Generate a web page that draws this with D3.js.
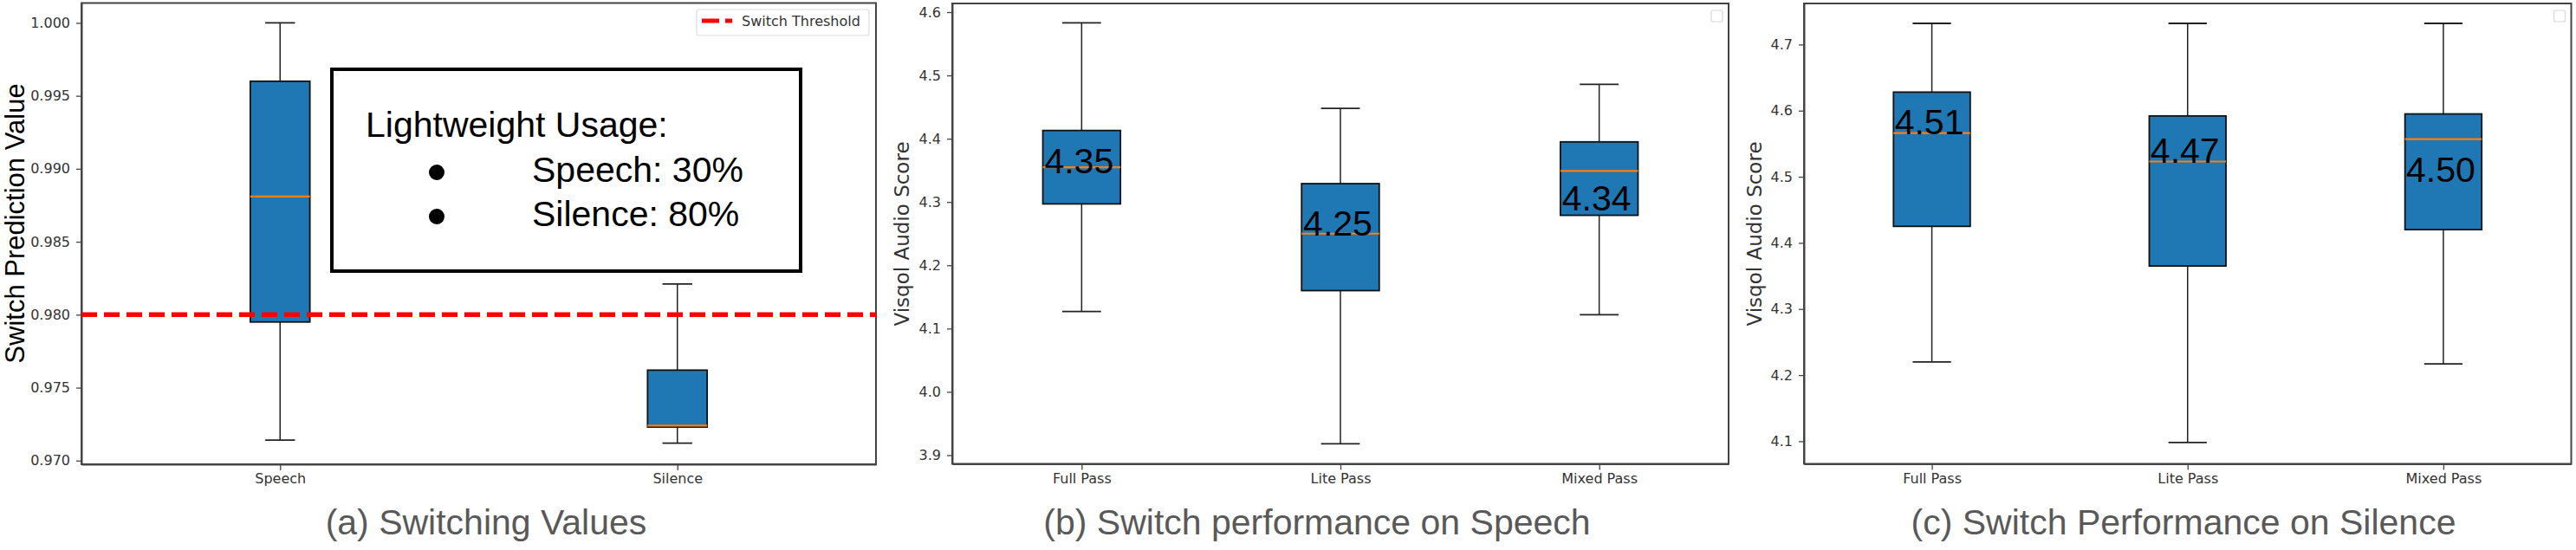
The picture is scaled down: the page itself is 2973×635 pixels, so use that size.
<!DOCTYPE html>
<html>
<head>
<meta charset="utf-8">
<script src="https://cdn.jsdelivr.net/npm/d3@7"></script>
<style>
  body { margin: 0; background: #fff; }
  .axis text { font-family: "DejaVu Sans", sans-serif; font-size: 16px; fill: #333; }
  .axis path, .axis line { stroke: #444; }
  .axis path { stroke-width: 2px; }
  .axis line { stroke-width: 1.3px; }
</style>
</head>
<body>
<svg id="chart" width="2973" height="635"></svg>
<script>
  // (a) switching values
  const switchCats = ['Speech', 'Silence'];
  const switchLow = [0.9714, 0.9712];
  const switchQ1 = [0.9795, 0.9723];
  const switchMedian = [0.9881, 0.9724];
  const switchQ3 = [0.9960, 0.9762];
  const switchHigh = [1.0000, 0.9821];
  const switchThreshold = 0.98;
  const switchTicks = [0.970, 0.975, 0.980, 0.985, 0.990, 0.995, 1.000];
  const usageTitle = 'Lightweight Usage:';
  const usageLines = ['Speech: 30%', 'Silence: 80%'];

  // (b) and (c) visqol scores
  const passCats = ['Full Pass', 'Lite Pass', 'Mixed Pass'];

  const speechLow = [4.127, 3.918, 4.122];
  const speechQ1 = [4.297, 4.160, 4.279];
  const speechMedian = [4.355, 4.250, 4.349];
  const speechQ3 = [4.413, 4.329, 4.395];
  const speechHigh = [4.583, 4.448, 4.486];
  const speechMeans = ['4.35', '4.25', '4.34'];
  const speechMeanAt = [4.345, 4.247, 4.286];
  const speechTicks = [3.9, 4.0, 4.1, 4.2, 4.3, 4.4, 4.5, 4.6];

  const silenceLow = [4.220, 4.098, 4.217];
  const silenceQ1 = [4.425, 4.365, 4.420];
  const silenceMedian = [4.566, 4.523, 4.557];
  const silenceQ3 = [4.628, 4.592, 4.595];
  const silenceHigh = [4.732, 4.732, 4.732];
  const silenceMeans = ['4.51', '4.47', '4.50'];
  const silenceMeanAt = [4.564, 4.521, 4.492];
  const silenceTicks = [4.1, 4.2, 4.3, 4.4, 4.5, 4.6, 4.7];

  const svg = d3.select('#chart');
  const arial = '"Liberation Sans", Arial, sans-serif';

  function boxPanel(p) {
    const x = d3.scalePoint().domain(p.cats).range([p.left, p.right]).padding(0.5);
    const y = d3.scaleLinear().domain(p.domain).range([p.bottom, p.top]);
    const step = x.step();
    const bw = step * p.boxWidth;
    const g = svg.append('g');

    const rows = p.cats.map((c, i) => ({
      cat: c, low: p.low[i], q1: p.q1[i], med: p.median[i], q3: p.q3[i], high: p.high[i]
    }));

    // whiskers
    g.selectAll('.whisker').data(rows).join('g').each(function (d) {
      const w = d3.select(this);
      const cx = x(d.cat);
      w.append('line').attr('x1', cx).attr('x2', cx).attr('y1', y(d.high)).attr('y2', y(d.q3))
        .attr('stroke', '#222').attr('stroke-width', 1.5);
      w.append('line').attr('x1', cx).attr('x2', cx).attr('y1', y(d.q1)).attr('y2', y(d.low))
        .attr('stroke', '#222').attr('stroke-width', 1.5);
      [d.high, d.low].forEach(v => {
        w.append('line').attr('x1', cx - bw / 4).attr('x2', cx + bw / 4)
          .attr('y1', y(v)).attr('y2', y(v)).attr('stroke', '#222').attr('stroke-width', 1.8);
      });
    });

    g.selectAll('.box').data(rows).join('rect')
      .attr('x', d => x(d.cat) - bw / 2)
      .attr('y', d => y(d.q3))
      .attr('width', bw)
      .attr('height', d => y(d.q1) - y(d.q3))
      .attr('fill', '#1f77b4')
      .attr('stroke', '#111')
      .attr('stroke-width', 1.8);

    g.selectAll('.median').data(rows).join('line')
      .attr('x1', d => x(d.cat) - bw / 2)
      .attr('x2', d => x(d.cat) + bw / 2)
      .attr('y1', d => y(d.med))
      .attr('y2', d => y(d.med))
      .attr('stroke', '#ff7f0e')
      .attr('stroke-width', 2.2);

    if (p.labels) {
      g.selectAll('.mean').data(p.labels).join('text')
        .attr('x', (d, i) => x(p.cats[i]) - 3)
        .attr('y', (d, i) => y(p.labelAt[i]))
        .attr('text-anchor', 'middle')
        .attr('font-family', arial)
        .attr('font-size', 41)
        .attr('fill', '#000')
        .text(d => d);
    }

    // axes
    g.append('g')
      .attr('class', 'axis')
      .attr('transform', 'translate(0,' + p.bottom + ')')
      .call(d3.axisBottom(x).tickSize(7).tickPadding(4).tickSizeOuter(0));
    g.append('g')
      .attr('class', 'axis')
      .attr('transform', 'translate(' + p.left + ',0)')
      .call(d3.axisLeft(y).tickValues(p.ticks).tickFormat(d3.format(p.fmt)).tickSize(6).tickPadding(7).tickSizeOuter(0));
    g.append('rect')
      .attr('x', p.left).attr('y', p.top)
      .attr('width', p.right - p.left).attr('height', p.bottom - p.top)
      .attr('fill', 'none').attr('stroke', '#444').attr('stroke-width', 2);

    g.append('text')
      .attr('transform', 'translate(' + p.ylabelX + ',' + p.ylabelY + ') rotate(-90)')
      .attr('text-anchor', 'middle')
      .attr('dominant-baseline', 'central')
      .attr('font-family', p.ylabelFont)
      .attr('font-size', p.ylabelSize)
      .attr('fill', p.ylabelColor)
      .text(p.ylabel);

    g.append('text')
      .attr('x', p.captionX).attr('y', 617)
      .attr('text-anchor', 'middle')
      .attr('font-family', arial)
      .attr('font-size', 41)
      .attr('fill', '#595959')
      .text(p.caption);

    if (p.emptyLegend) {
      g.append('rect')
        .attr('x', p.right - 20).attr('y', p.top + 8)
        .attr('width', 13).attr('height', 13).attr('rx', 2)
        .attr('fill', '#fff').attr('stroke', '#d8d8d8').attr('stroke-width', 1.2);
    }
    return { g, x, y };
  }

  // panel (a)
  const pa = boxPanel({
    cats: switchCats, low: switchLow, q1: switchQ1, median: switchMedian, q3: switchQ3, high: switchHigh,
    left: 94, right: 1011, top: 3.5, bottom: 536, domain: [0.96975, 1.00136],
    boxWidth: 0.15, ticks: switchTicks, fmt: '.3f',
    ylabel: 'Switch Prediction Value', ylabelX: 17, ylabelY: 258, ylabelFont: arial, ylabelSize: 31, ylabelColor: '#000',
    caption: '(a) Switching Values', captionX: 561
  });

  pa.g.append('line')
    .attr('x1', 94).attr('x2', 1011)
    .attr('y1', pa.y(switchThreshold)).attr('y2', pa.y(switchThreshold))
    .attr('stroke', '#ff0000').attr('stroke-width', 5.5)
    .attr('stroke-dasharray', '18,8');

  // legend
  const leg = pa.g.append('g');
  leg.append('rect').attr('x', 804).attr('y', 11).attr('width', 199).attr('height', 30).attr('rx', 3)
    .attr('fill', '#fff').attr('stroke', '#ddd').attr('stroke-width', 1.2);
  leg.append('line').attr('x1', 810).attr('x2', 845).attr('y1', 24).attr('y2', 24)
    .attr('stroke', '#ff0000').attr('stroke-width', 5).attr('stroke-dasharray', '20,7');
  leg.append('text').attr('x', 856).attr('y', 30)
    .attr('font-family', '"DejaVu Sans", sans-serif').attr('font-size', 16).attr('fill', '#333')
    .text('Switch Threshold');

  // usage annotation box
  const note = pa.g.append('g');
  note.append('rect').attr('x', 383).attr('y', 80).attr('width', 541).attr('height', 233)
    .attr('fill', '#fff').attr('stroke', '#000').attr('stroke-width', 4);
  note.append('text').attr('x', 422).attr('y', 158)
    .attr('font-family', arial).attr('font-size', 41).attr('fill', '#000')
    .text(usageTitle);
  note.selectAll('.bullet').data(usageLines).join('circle')
    .attr('cx', 504).attr('cy', (d, i) => 199 + i * 51).attr('r', 9).attr('fill', '#000');
  note.selectAll('.usage').data(usageLines).join('text')
    .attr('x', 614).attr('y', (d, i) => 210 + i * 51)
    .attr('font-family', arial).attr('font-size', 41).attr('fill', '#000')
    .text(d => d);

  // panel (b)
  boxPanel({
    cats: passCats, low: speechLow, q1: speechQ1, median: speechMedian, q3: speechQ3, high: speechHigh,
    labels: speechMeans, labelAt: speechMeanAt,
    left: 1099, right: 1995, top: 4, bottom: 535.5, domain: [3.8863, 4.6137],
    boxWidth: 0.3, ticks: speechTicks, fmt: '.1f',
    ylabel: 'Visqol Audio Score', ylabelX: 1041, ylabelY: 270, ylabelFont: '"DejaVu Sans", sans-serif', ylabelSize: 23, ylabelColor: '#333',
    caption: '(b) Switch performance on Speech', captionX: 1520, emptyLegend: true
  });

  // panel (c)
  boxPanel({
    cats: passCats, low: silenceLow, q1: silenceQ1, median: silenceMedian, q3: silenceQ3, high: silenceHigh,
    labels: silenceMeans, labelAt: silenceMeanAt,
    left: 2082, right: 2967.5, top: 4, bottom: 535.5, domain: [4.0658, 4.7621],
    boxWidth: 0.3, ticks: silenceTicks, fmt: '.1f',
    ylabel: 'Visqol Audio Score', ylabelX: 2025, ylabelY: 270, ylabelFont: '"DejaVu Sans", sans-serif', ylabelSize: 23, ylabelColor: '#333',
    caption: '(c) Switch Performance on Silence', captionX: 2520, emptyLegend: true
  });
</script>
</body>
</html>
